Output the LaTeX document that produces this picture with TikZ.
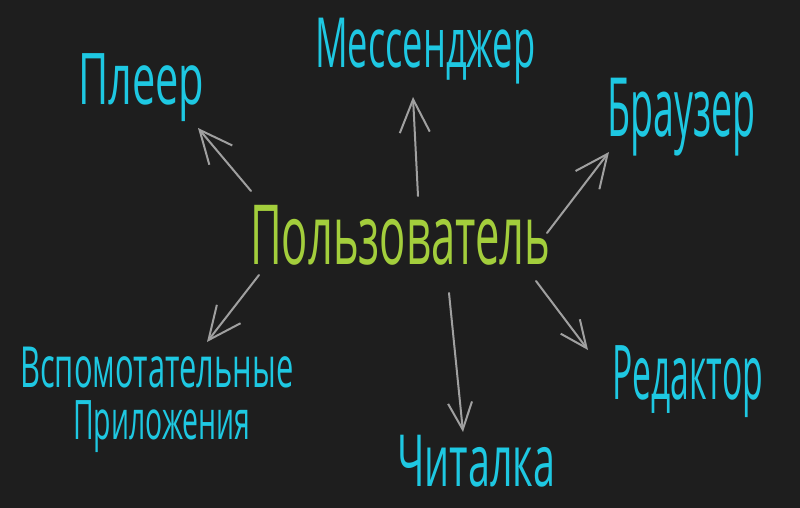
\documentclass[tikz,border=0pt]{standalone}
\usepackage{fontspec}
\setmainfont{Open Sans}
\usetikzlibrary{arrows.meta}
\definecolor{bgc}{HTML}{1E1E1E}
\definecolor{cyanc}{HTML}{1EC8E2}
\definecolor{greenc}{HTML}{A3CE3C}
\definecolor{arrc}{HTML}{A0A0A0}
\newcommand{\fitbox}[3]{\resizebox*{#1pt}{#2pt}{#3}}
\tikzset{
  lbl/.style={anchor=north west, inner sep=0pt, text=cyanc},
  mainlbl/.style={anchor=north west, inner sep=0pt, text=greenc},
  arr/.style={draw=arrc, line width=2pt, line cap=round,
    -{Straight Barb[length=33pt, width=30pt, line width=2pt]}},
  arrs/.style={draw=arrc, line width=2pt, line cap=round,
    -{Straight Barb[length=27pt, width=24pt, line width=2pt]}}
}
\begin{document}
\begin{tikzpicture}[x=1pt, y=-1pt]
\fill[bgc] (0,0) rectangle (800,508);
\useasboundingbox (0,0) rectangle (800,508);

\node[mainlbl] (user) at (250,205) {\fitbox{300}{60}{Пользователь}};
\node[lbl] (player) at (78,53) {\fitbox{126}{68}{Плеер}};
\node[lbl] (msg) at (315,18) {\fitbox{220}{66}{Мессенджер}};
\node[lbl] (browser) at (607,78) {\fitbox{148}{78}{Браузер}};
\node[lbl] (aux1) at (20,347) {\fitbox{273}{41}{Вспомотательные}};
\node[lbl] (aux2) at (73,400) {\fitbox{177}{52}{Приложения}};
\node[lbl] (reader) at (397,435) {\fitbox{158}{52}{Читалка}};
\node[lbl] (editor) at (612,345) {\fitbox{151}{72}{Редактор}};

\coordinate (s1) at (251,191); \coordinate (e1) at (198,128);
\coordinate (s2) at (418,196); \coordinate (e2) at (413,97);
\coordinate (s3) at (547,233); \coordinate (e3) at (609,152);
\coordinate (s4) at (259,275); \coordinate (e4) at (207,342);
\coordinate (s5) at (449,293); \coordinate (e5) at (463,432);
\coordinate (s6) at (536,281); \coordinate (e6) at (588,350);

\draw[arr] (s1) -- (e1);
\draw[arr] (s2) -- (e2);
\draw[arr] (s3) -- (e3);
\draw[arr] (s4) -- (e4);
\draw[arrs] (s5) -- (e5);
\draw[arrs] (s6) -- (e6);
\end{tikzpicture}
\end{document}
